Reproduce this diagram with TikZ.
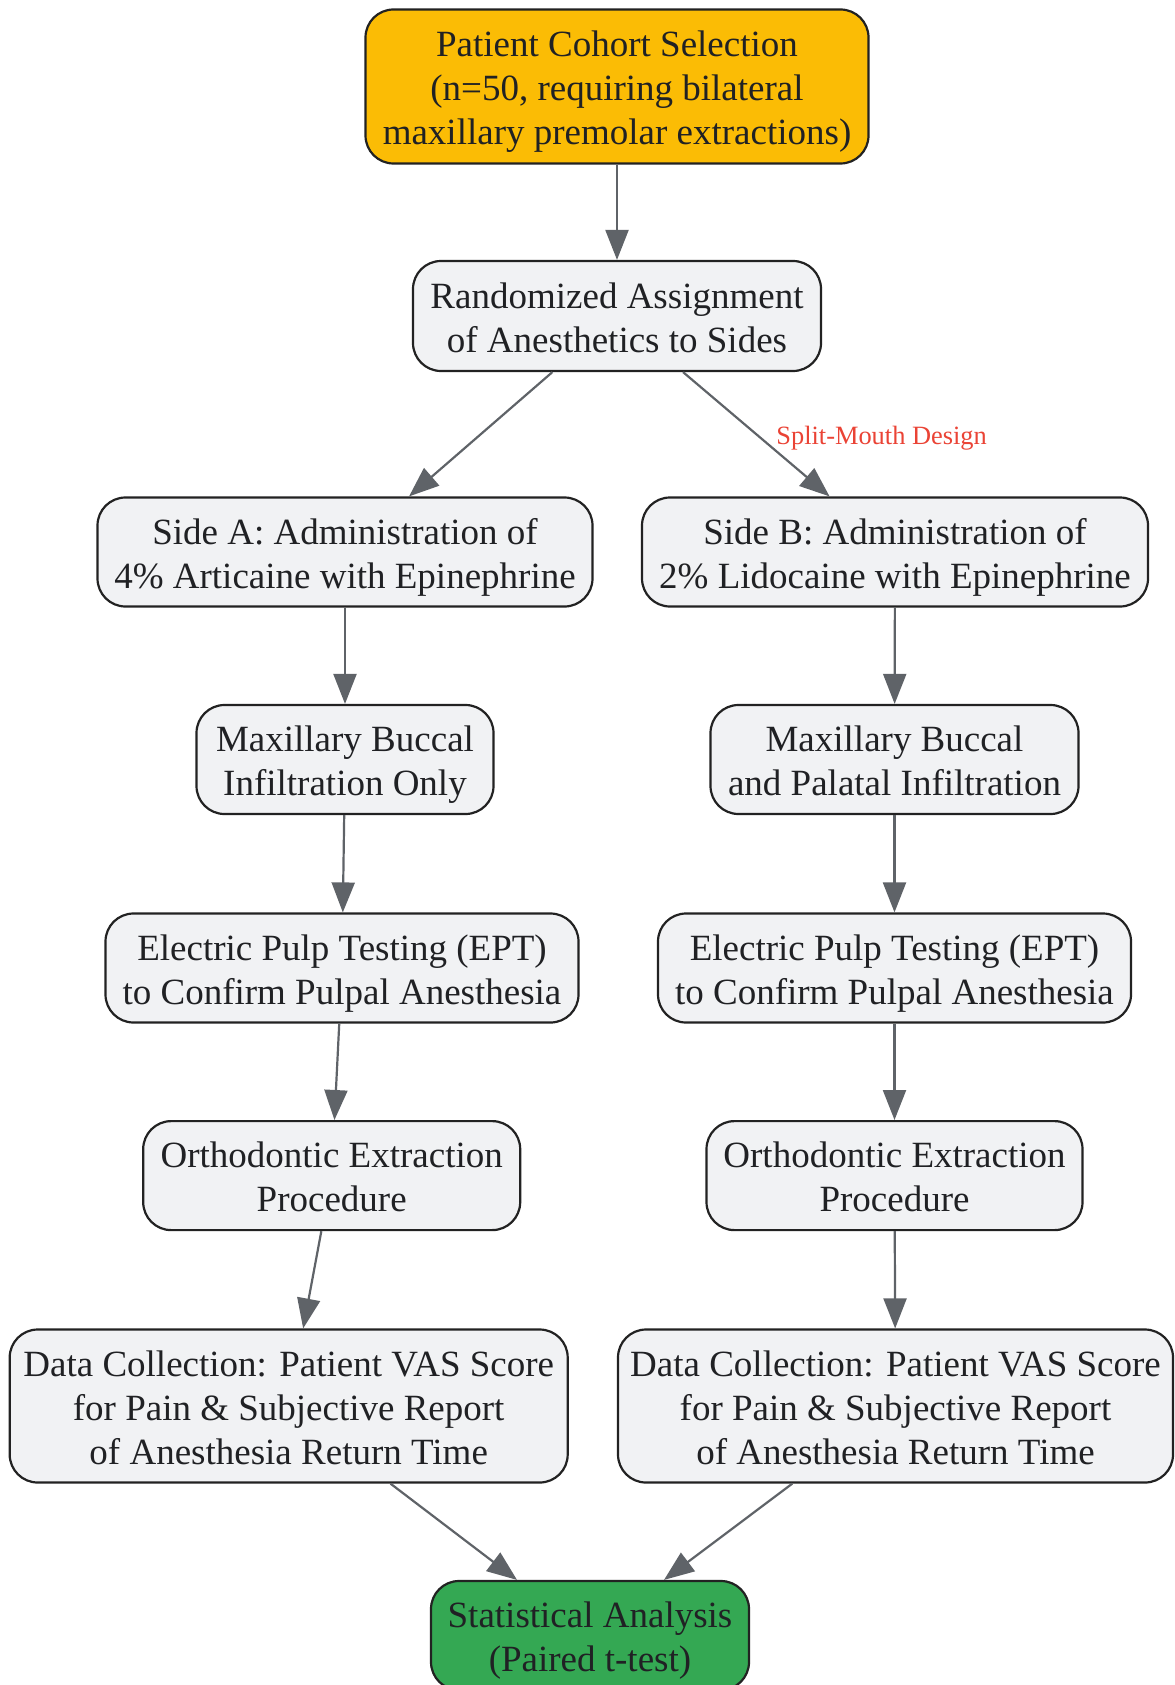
\documentclass[tikz,border=0pt]{standalone}
\usepackage{fontspec}
\setmainfont{Liberation Serif}
\usetikzlibrary{arrows.meta}
\definecolor{cyellow}{HTML}{FBBC05}
\definecolor{cgreen}{HTML}{34A853}
\definecolor{cgrey}{HTML}{F1F2F4}
\definecolor{cborder}{HTML}{222222}
\definecolor{cline}{HTML}{5F6368}
\definecolor{ctext}{HTML}{202124}
\definecolor{cred}{HTML}{EA4335}
\newcommand{\topstr}{\rule{0pt}{18.5pt}}
\newcommand{\botstr}{\rule[-4.5pt]{0pt}{4.5pt}}
\begin{document}
\begin{tikzpicture}[x=0.5pt,y=-0.5pt,
  box/.style={draw=cborder, line width=1.1pt, fill=cgrey, rounded corners=14pt,
    align=center, inner sep=0pt, text=ctext,
    font=\fontsize{18.5pt}{22pt}\selectfont},
  wh/.style 2 args={minimum width=#1*0.5pt, minimum height=#2*0.5pt},
  arr/.style={draw=cline, line width=1.1pt, -{Triangle[length=15pt,width=11.5pt]}, fill=cline},
  lbl/.style={text=cred, font=\fontsize{13.2pt}{15pt}\selectfont, inner sep=0pt}]
\useasboundingbox (0,0) rectangle (1174,1685);
\clip (0,0) rectangle (1174,1685);

\node[box, fill=cyellow, wh={503}{154}] (top) at (617,86.5)
  {\topstr Patient Cohort Selection\\(n=50, requiring bilateral\\maxillary premolar extractions)\botstr};
\node[box, wh={408}{110}] (rand) at (617,316)
  {\topstr Randomized Assignment\\of Anesthetics to Sides\botstr};
\node[box, wh={495}{109}] (sidea) at (345,552)
  {\topstr Side A: Administration of\\4\% Articaine with Epinephrine\botstr};
\node[box, wh={506}{109}] (sideb) at (895,552)
  {\topstr Side B: Administration of\\2\% Lidocaine with Epinephrine\botstr};
\node[box, wh={297}{109}] (maxa) at (345,759.5)
  {\topstr Maxillary Buccal\\Infiltration Only\botstr};
\node[box, wh={368}{109}] (maxb) at (894.5,759.5)
  {\topstr Maxillary Buccal\\and Palatal Infiltration\botstr};
\node[box, wh={473}{109}] (epta) at (342,968)
  {\topstr Electric Pulp Testing (EPT)\\to Confirm Pulpal Anesthesia\botstr};
\node[box, wh={473}{109}] (eptb) at (894.5,968)
  {\topstr Electric Pulp Testing (EPT)\\to Confirm Pulpal Anesthesia\botstr};
\node[box, wh={377}{109}] (orthoa) at (331.7,1175.6)
  {\topstr Orthodontic Extraction\\Procedure\botstr};
\node[box, wh={376}{109}] (orthob) at (894.5,1175.6)
  {\topstr Orthodontic Extraction\\Procedure\botstr};
\node[box, wh={558}{153}] (dataa) at (288.7,1406)
  {\topstr Data Collection: Patient VAS Score\\for Pain \& Subjective Report\\of Anesthesia Return Time\botstr};
\node[box, wh={555}{153}] (datab) at (895.5,1406)
  {\topstr Data Collection: Patient VAS Score\\for Pain \& Subjective Report\\of Anesthesia Return Time\botstr};
\node[box, fill=cgreen, wh={318}{109}] (stats) at (590,1635.5)
  {\topstr Statistical Analysis\\(Paired t-test)\botstr};

\node[lbl] (smd) at (881.6,438.5) {Split-Mouth Design};

\draw[arr] (top) -- (rand);
\draw[arr] (rand) -- (sidea);
\draw[arr] (rand) -- (sideb);
\draw[arr] (sidea) -- (maxa);
\draw[arr] (sideb) -- (maxb);
\draw[arr] (maxa) -- (epta);
\draw[arr] (maxb) -- (eptb);
\draw[arr] (epta) -- (orthoa);
\draw[arr] (eptb) -- (orthob);
\draw[arr] (orthoa) -- (dataa);
\draw[arr] (orthob) -- (datab);
\draw[arr] (dataa) -- (stats);
\draw[arr] (datab) -- (stats);
\end{tikzpicture}
\end{document}
